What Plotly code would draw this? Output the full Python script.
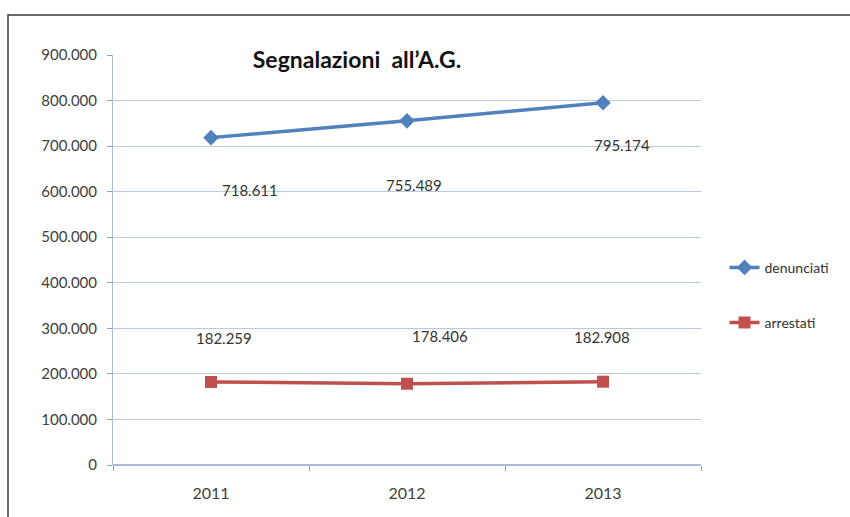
import plotly.graph_objects as go

# Dati
anni = ['2011', '2012', '2013']
denunciati = [718611, 755489, 795174]
arrestati = [182259, 178406, 182908]
y_ticks = [0, 100000, 200000, 300000, 400000, 500000, 600000, 700000, 800000, 900000]

# spostamenti delle etichette dati (px), come nell'originale
den_shift = [(39, -52), (7, -64), (19, -42)]
arr_shift = [(13, 44), (33, 48), (-1, 45)]

blu = '#4F81BD'
rosso = '#C0504D'


def fmt(v):
    return f'{v:,}'.replace(',', '.')


fig = go.Figure()

fig.add_trace(go.Scatter(
    x=anni, y=denunciati, name='denunciati', mode='lines+markers',
    line=dict(color=blu, width=3.5),
    marker=dict(symbol='diamond', size=12, color=blu),
    legendgroup='a',
))
fig.add_trace(go.Scatter(
    x=anni, y=arrestati, name='arrestati', mode='lines+markers',
    line=dict(color=rosso, width=3.5),
    marker=dict(symbol='square', size=12, color=rosso),
    legendgroup='b',
))

# etichette dati (sull'asse a categorie la x è l'indice della categoria)
for serie, shifts in ((denunciati, den_shift), (arrestati, arr_shift)):
    for i, (v, (dx, dy)) in enumerate(zip(serie, shifts)):
        fig.add_annotation(x=i, y=v, xref='x', yref='y', text=fmt(v),
                           showarrow=False, xshift=dx, yshift=dy,
                           font=dict(family='Lato', size=15, color='#333333'))

# cornice della scansione
l, r, t, b = 113, 149, 55, 52
pw, ph = 850 - l - r, 517 - t - b
x0 = (8 - l) / pw
x1 = (850 - l) / pw
y_top = 1 + (t - 15) / ph
y_bot = -b / ph
fig.add_shape(type='path', xref='paper', yref='paper',
              path=f'M {x0},{y_bot} L {x0},{y_top} L {x1},{y_top}',
              line=dict(color='#3a3a3a', width=1.5))

fig.update_layout(
    width=850, height=517,
    margin=dict(l=l, r=r, t=t, b=b, autoexpand=False),
    paper_bgcolor='white', plot_bgcolor='white',
    separators=',.',
    font=dict(family='Lato', size=14, color='#404040'),
    title=dict(text="<b>Segnalazioni  all’A.G.</b>", xref='container', yref='container',
               x=357 / 850, y=1 - 60 / 517, xanchor='center', yanchor='middle',
               font=dict(family='Lato', size=23, color='#111111')),
    showlegend=True,
    legend=dict(x=1.04, y=0.52, xanchor='left', yanchor='top',
                traceorder='grouped', tracegroupgap=34,
                font=dict(size=14, color='#333333'), bgcolor='rgba(0,0,0,0)'),
    xaxis=dict(type='category', range=[-0.5, 2.5], tickson='boundaries',
               ticks='outside', ticklen=5, tickcolor='#8aa0c0',
               ticklabelstandoff=17,
               showgrid=False, showline=False, zeroline=False,
               tickfont=dict(size=16, color='#404040')),
    yaxis=dict(range=[0, 900000], tickvals=y_ticks, tickformat=',d',
               ticks='outside', ticklen=5, tickcolor='#8aa0c0',
               ticklabelstandoff=7,
               showgrid=True, gridcolor='#b9c9e2', gridwidth=1,
               showline=True, linecolor='#a8bcd8', zeroline=True,
               zerolinecolor='#a8bcd8', tickfont=dict(size=15, color='#404040')),
)

# niente margine del body, così la figura parte dall'angolo della pagina
fig.write_html('out.html', config={'displayModeBar': False},
               post_script="document.body.style.margin='0';")
